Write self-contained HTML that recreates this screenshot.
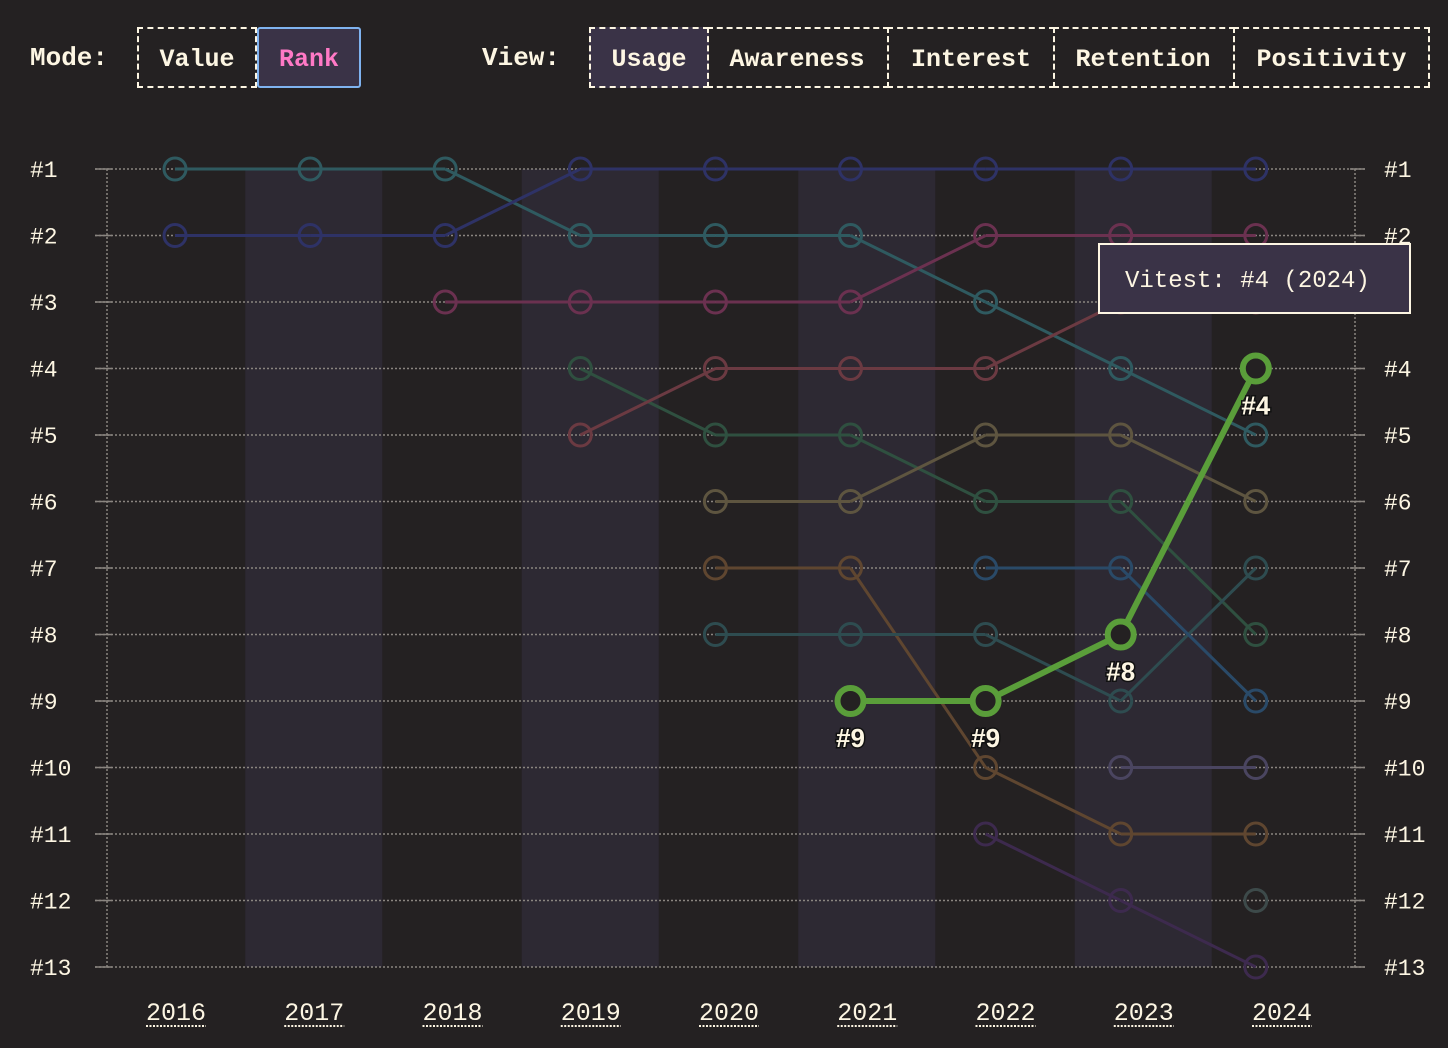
<!DOCTYPE html>
<html><head><meta charset="utf-8"><style>
html,body{margin:0;padding:0;background:#242122;width:1448px;height:1048px;overflow:hidden;font-family:"Liberation Mono",monospace;color:#fdf6e3}
.lbl{position:absolute;font-weight:bold;font-size:26px;top:43px}
.btn{position:absolute;top:27px;height:61px;box-sizing:border-box;border:2px dashed #fdf6e3;font-weight:bold;font-size:25px;display:flex;align-items:center;justify-content:center;background:transparent;padding-top:4px}
.sel{background:#3a3347}
</style></head><body>
<div class="lbl" style="left:30px">Mode:</div>
<div class="btn" style="left:137px;width:120px">Value</div>
<div class="btn sel" style="left:257px;width:104px;border:2px solid #7fb3f0;border-radius:3px;color:#ff79c6">Rank</div>
<div class="lbl" style="left:482px">View:</div>
<div class="btn sel" style="left:589px;width:120px">Usage</div>
<div class="btn" style="left:707px;width:182px;border-left:none">Awareness</div>
<div class="btn" style="left:887px;width:168px">Interest</div>
<div class="btn" style="left:1053px;width:182px;border-left:none">Retention</div>
<div class="btn" style="left:1233px;width:197px">Positivity</div>
<svg id="chart" width="1448" height="1048" style="position:absolute;left:0;top:0" xmlns="http://www.w3.org/2000/svg"></svg>
<script>
const years=[2016,2017,2018,2019,2020,2021,2022,2023,2024];
const rankTicks=[1,2,3,4,5,6,7,8,9,10,11,12,13];
const s1=[1,1,1,2,2,2,3,4,5];
const s2=[2,2,2,1,1,1,1,1,1];
const s3=[null,null,3,3,3,3,2,2,2];
const s4=[null,null,null,4,5,5,6,6,8];
const s5=[null,null,null,5,4,4,4,3,3];
const s6=[null,null,null,null,6,6,5,5,6];
const s7=[null,null,null,null,7,7,10,11,11];
const s8=[null,null,null,null,8,8,8,9,7];
const s9=[null,null,null,null,null,null,7,7,9];
const s10=[null,null,null,null,null,null,11,12,13];
const s11=[null,null,null,null,null,null,null,10,10];
const s12=[null,null,null,null,null,null,null,null,12];
const vitest=[null,null,null,null,null,9,9,8,4];
const seriesList=[s1,s2,s3,s4,s5,s6,s7,s8,s9,s10,s11,s12];
const colors=["#2f5a60","#2e3266","#6b3150","#2f5040","#6b3a42","#5e5540","#5f4630","#2e4c50","#2a4a68","#3d2a4e","#4a4560","#3d4a4a"];
const svg=document.getElementById('chart');
const NS="http://www.w3.org/2000/svg";
const x=i=>175+i*135.1;
const bx=i=>176+i*138.25;
const y=r=>169+(r-1)*66.5;
function mk(t,a){const e=document.createElementNS(NS,t);for(const k in a)e.setAttribute(k,a[k]);svg.appendChild(e);return e;}
for(let i=1;i<years.length;i+=2){const b=mk('rect',{x:bx(i)-69,y:y(1),width:137,height:y(13)-y(1),fill:'#2d2933'});

}
rankTicks.forEach(r=>{
const g=mk('line',{x1:95,x2:1365,y1:y(r),y2:y(r),stroke:'#8a8580','stroke-width':1.5,'stroke-dasharray':'2 2'});


mk('line',{x1:95,x2:112,y1:y(r),y2:y(r),stroke:'#8a8580','stroke-width':1.5});
mk('line',{x1:1350,x2:1365,y1:y(r),y2:y(r),stroke:'#8a8580','stroke-width':1.5});
const l=mk('text',{x:30,y:y(r)+8,fill:'#fdf6e3','font-size':23,'font-family':'Liberation Mono'});l.textContent='#'+r;


const rt=mk('text',{x:1384,y:y(r)+8,fill:'#fdf6e3','font-size':23,'font-family':'Liberation Mono'});rt.textContent='#'+r;


});
mk('line',{x1:107,x2:107,y1:y(1),y2:y(13),stroke:'#8a8580','stroke-width':1.5,'stroke-dasharray':'2 2'});
mk('line',{x1:1355,x2:1355,y1:y(1),y2:y(13),stroke:'#8a8580','stroke-width':1.5,'stroke-dasharray':'2 2'});
years.forEach((yr,i)=>{
const t=mk('text',{x:bx(i),y:1020,fill:'#fdf6e3','font-size':25,'font-family':'Liberation Mono','text-anchor':'middle'});t.textContent=yr;


mk('line',{x1:bx(i)-30,x2:bx(i)+30,y1:1026,y2:1026,stroke:'#fdf6e3','stroke-width':2,'stroke-dasharray':'2 1.5'});
});
function drawSeries(vals,col,w,r,fill,name){
let prev=null;
vals.forEach((v,i)=>{if(v==null){prev=null;return;}
if(prev!=null){const l=mk('line',{x1:x(i-1),y1:y(vals[i-1]),x2:x(i),y2:y(v),stroke:col,'stroke-width':w});

}
prev=v;});
vals.forEach((v,i)=>{if(v==null)return;
const c=mk('circle',{cx:x(i),cy:y(v),r:r,fill:fill,stroke:col,'stroke-width':w});

});
}
seriesList.forEach((s,k)=>drawSeries(s,colors[k],3,11,'none','series-'+(k+1)));
drawSeries(vitest,'#5a9e3a',6,13,'#242122','vitest');
vitest.forEach((v,i)=>{if(v==null)return;
const t=mk('text',{x:x(i),y:y(v)+46,fill:'#fdf6e3','font-size':26,'font-weight':'bold','font-family':'Liberation Sans','text-anchor':'middle',style:'paint-order:stroke;stroke:#111;stroke-width:3px'});t.textContent='#'+v;

});
const tb=mk('rect',{x:1099,y:244,width:311,height:69,fill:'#3a3347',stroke:'#fdf6e3','stroke-width':2});


const tt=mk('text',{x:1125,y:287,fill:'#fdf6e3','font-size':24,'font-family':'Liberation Mono'});tt.textContent='Vitest: #4 (2024)';


</script>
</body></html>
